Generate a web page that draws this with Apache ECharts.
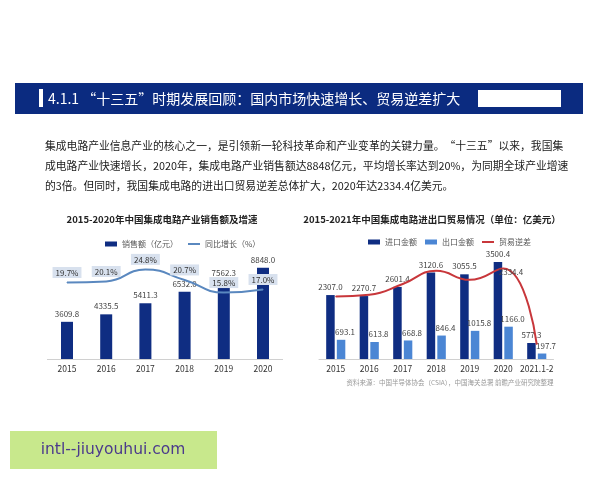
<!DOCTYPE html>
<html><head><meta charset="utf-8">
<script src="https://cdn.jsdelivr.net/npm/echarts@6/dist/echarts.min.js"></script>
<style>html,body{margin:0;padding:0;background:#fff;}#c{width:600px;height:480px;}</style>
</head><body><div id="c"></div>
<script>
// ---- data ----
var headerText = '4.1.1 “十三五”时期发展回顾：国内市场快速增长、贸易逆差扩大';
var paraLines = [
  '集成电路产业信息产业的核心之一，是引领新一轮科技革命和产业变革的关键力量。“十三五”以来，我国集',
  '成电路产业快速增长，2020年，集成电路产业销售额达8848亿元，平均增长率达到20%，为同期全球产业增速',
  '的3倍。但同时，我国集成电路的进出口贸易逆差总体扩大，2020年达2334.4亿美元。'
];
var leftTitle = '2015-2020年中国集成电路产业销售额及增速';
var rightTitle = '2015-2021年中国集成电路进出口贸易情况（单位：亿美元）';
var sourceText = '资料来源：中国半导体协会（CSIA），中国海关总署 前瞻产业研究院整理';
var watermark = 'intl--jiuyouhui.com';

var yearsA = ['2015','2016','2017','2018','2019','2020'];
var sales = [3609.8, 4335.5, 5411.3, 6532.0, 7562.3, 8848.0];
var growth = [19.7, 20.1, 24.8, 20.7, 15.8, 17.0];

var yearsB = ['2015','2016','2017','2018','2019','2020','2021.1-2'];
var imports = [2307.0, 2270.7, 2601.4, 3120.6, 3055.5, 3500.4, 577.3];
var exportsV = [693.1, 613.8, 668.8, 846.4, 1015.8, 1166.0, 197.7];
var deficit = [1613.9, 1656.9, 1932.6, 2274.2, 2039.7, 2334.4, 379.6];
var deficitLabelIndex = 5;

var navy = '#0f2d82', lightBlue = '#4b86d4', red = '#c8373b', lineBlue = '#5a88bf';
var lineIcon = 'path://M0,0H24V4H0Z';
var chart = echarts.init(document.getElementById('c'));

var xAxisCommon = {
  type: 'category', axisTick: {show: false},
  axisLine: {lineStyle: {color: '#d0d0d0'}},
  axisLabel: {color: '#333', fontSize: 8.5, margin: 6, interval: 0}
};
function hiddenY(grid, min, max) {
  return {type: 'value', gridIndex: grid, min: min, max: max, show: false, splitLine: {show: false}};
}

var option = {
  animation: false,
  textStyle: {fontFamily: '"Noto Sans CJK SC", "Noto Sans", sans-serif'},
  grid: [
    {left: 47.4, width: 235.2, top: 256, height: 103},
    {left: 319, width: 234.5, top: 262, height: 97}
  ],
  xAxis: [
    Object.assign({gridIndex: 0, data: yearsA}, xAxisCommon),
    Object.assign({gridIndex: 1, data: yearsB}, xAxisCommon)
  ],
  yAxis: [hiddenY(0, 0, 10000), hiddenY(0, -10, 30), hiddenY(1, 0, 3500), hiddenY(1, 0, 2500)],
  legend: [
    {left: 100, top: 235, itemWidth: 12, itemHeight: 5, itemGap: 10,
     textStyle: {fontSize: 8, color: '#555'},
     data: [{name: '销售额（亿元）', icon: 'rect'}, {name: '同比增长（%）', icon: lineIcon}]},
    {left: 363, top: 233, itemWidth: 12, itemHeight: 5, itemGap: 8,
     textStyle: {fontSize: 8, color: '#555'},
     data: [{name: '进口金额', icon: 'rect'}, {name: '出口金额', icon: 'rect'}, {name: '贸易逆差', icon: lineIcon}]}
  ],
  series: [
    {name: '销售额（亿元）', type: 'bar', xAxisIndex: 0, yAxisIndex: 0, data: sales, barWidth: 12,
     itemStyle: {color: navy},
     label: {show: true, position: 'top', distance: 4, color: '#444', fontSize: 8,
             formatter: function (p) { return p.value.toFixed(1); }}},
    {name: '同比增长（%）', type: 'line', xAxisIndex: 0, yAxisIndex: 1, data: growth, smooth: true,
     symbol: 'circle', symbolSize: 1, lineStyle: {color: lineBlue, width: 2}, itemStyle: {color: lineBlue},
     label: {show: true, position: 'top', distance: 4, color: '#333', fontSize: 8,
             backgroundColor: '#d8e1ee', padding: [2, 3, 1, 3],
             formatter: function (p) { return p.value.toFixed(1) + '%'; }}},
    {name: '进口金额', type: 'bar', xAxisIndex: 1, yAxisIndex: 2, data: imports, barWidth: 8.5, barGap: '25%',
     itemStyle: {color: navy},
     label: {show: true, position: 'top', distance: 4, color: '#444', fontSize: 8,
             formatter: function (p) { return p.value.toFixed(1); }}},
    {name: '出口金额', type: 'bar', xAxisIndex: 1, yAxisIndex: 2, data: exportsV, barWidth: 8.5, barGap: '25%',
     itemStyle: {color: lightBlue},
     label: {show: true, position: 'top', distance: 4, offset: [4, 0], color: '#444', fontSize: 8,
             formatter: function (p) { return p.value.toFixed(1); }}},
    {name: '贸易逆差', type: 'line', xAxisIndex: 1, yAxisIndex: 3, smooth: true, symbol: 'circle', symbolSize: 1,
     lineStyle: {color: red, width: 2}, itemStyle: {color: red},
     data: deficit.map(function (v, i) {
       return i === deficitLabelIndex ? {value: v, label: {show: true, position: 'right', offset: [-10, 4],
         color: '#444', fontSize: 8, formatter: function (p) { return p.value.toFixed(1); }}} : v;
     })}
  ],
  graphic: [
    {type: 'rect', shape: {x: 15, y: 83, width: 568, height: 31}, style: {fill: '#0b2b80'}, z: 1},
    {type: 'rect', shape: {x: 39, y: 89, width: 4, height: 18}, style: {fill: '#ffffff'}, z: 2},
    {type: 'rect', shape: {x: 478, y: 90, width: 83, height: 17}, style: {fill: '#ffffff'}, z: 2},
    {type: 'text', x: 48, y: 99, z: 2, style: {text: headerText, fill: '#ffffff', fontSize: 14,
      fontFamily: '"Noto Sans CJK SC", sans-serif', verticalAlign: 'middle'}},
    {type: 'text', x: 45, y: 146, style: {text: paraLines[0], fill: '#1a1a1a', fontSize: 10.8,
      fontFamily: '"Noto Sans CJK SC", sans-serif', verticalAlign: 'middle'}},
    {type: 'text', x: 45, y: 166, style: {text: paraLines[1], fill: '#1a1a1a', fontSize: 10.8,
      fontFamily: '"Noto Sans CJK SC", sans-serif', verticalAlign: 'middle'}},
    {type: 'text', x: 45, y: 186, style: {text: paraLines[2], fill: '#1a1a1a', fontSize: 10.8,
      fontFamily: '"Noto Sans CJK SC", sans-serif', verticalAlign: 'middle'}},
    {type: 'text', x: 162, y: 219, style: {text: leftTitle, fill: '#222', fontSize: 9.5, fontWeight: 'bold',
      fontFamily: '"Noto Sans CJK SC", sans-serif', align: 'center', verticalAlign: 'middle'}},
    {type: 'text', x: 432, y: 219, style: {text: rightTitle, fill: '#222', fontSize: 9.5, fontWeight: 'bold',
      fontFamily: '"Noto Sans CJK SC", sans-serif', align: 'center', verticalAlign: 'middle'}},
    {type: 'text', x: 450, y: 383, style: {text: sourceText, fill: '#999', fontSize: 6.5,
      fontFamily: '"Noto Sans CJK SC", sans-serif', align: 'center', verticalAlign: 'middle'}},
    {type: 'rect', shape: {x: 10, y: 431, width: 207, height: 38}, style: {fill: '#c8e88c'}},
    {type: 'text', x: 113, y: 450, style: {text: watermark, fill: '#4b3a8c', fontSize: 15.5,
      fontFamily: '"DejaVu Sans", sans-serif', align: 'center', verticalAlign: 'middle'}}
  ]
};
chart.setOption(option);
</script></body></html>
